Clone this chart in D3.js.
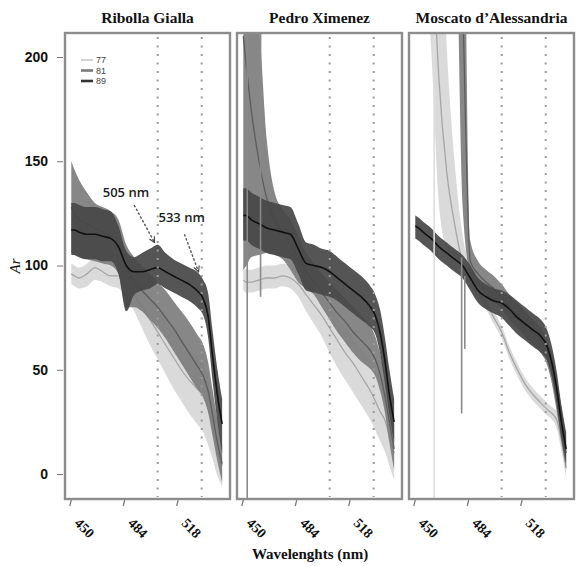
<!DOCTYPE html>
<html>
<head>
<meta charset="utf-8">
<script src="https://cdn.jsdelivr.net/npm/d3@7"></script>
<style>
  body { margin: 0; background: #fff; }
</style>
</head>
<body>
<div id="chart"></div>
<script>
// wavelengths (nm) shared by every panel
const wavelengths = [450, 452, 455, 460, 465, 470, 475, 480, 485, 490, 495, 500, 505, 510, 515, 520, 525, 530, 534, 537, 540, 543, 546];

const cultivars = ["Ribolla  Gialla", "Pedro  Ximenez", "Moscato d\u2019Alessandria"];
const seriesNames = ["77", "81", "89"];
const yTicks = [0, 50, 100, 150, 200];
const xTicks = [450, 484, 518];
const markers = [505, 533];

// Ribolla Gialla
const ribolla77   = [96, 95, 94, 96, 99, 97, 95, 95, 92, 86, 80, 74, 68, 62, 56, 50, 45, 41, 37, 31, 22, 12, 4];
const ribolla77Lo = [91, 90, 89, 90, 93, 92, 90, 89, 85, 78, 70, 62, 55, 48, 41, 35, 29, 24, 20, 14, 7, -1, -6];
const ribolla77Hi = [101, 100, 99, 101, 104, 102, 100, 101, 99, 94, 90, 86, 81, 76, 71, 65, 60, 56, 52, 46, 36, 24, 13];
const ribolla81   = [128, 125, 122, 120, 118, 116, 114, 109, 99, 92, 88, 84, 80, 75, 70, 64, 58, 52, 47, 40, 28, 15, 5];
const ribolla81Lo = [106, 105, 104, 103, 102, 101, 100, 96, 80, 80, 78, 74, 70, 65, 59, 53, 47, 41, 37, 30, 18, 6, -4];
const ribolla81Hi = [150, 146, 141, 135, 130, 128, 126, 122, 110, 104, 100, 96, 92, 88, 83, 78, 73, 67, 62, 54, 40, 26, 14];
const ribolla89   = [117, 117, 116, 115, 115, 114, 113, 109, 100, 97, 97, 98, 99, 97, 95, 93, 91, 88, 84, 76, 56, 38, 24];
const ribolla89Lo = [105, 105, 104, 103, 103, 102, 102, 96, 78, 86, 88, 89, 91, 89, 87, 85, 83, 80, 76, 66, 44, 25, 10];
const ribolla89Hi = [130, 130, 129, 128, 128, 127, 126, 119, 107, 104, 106, 108, 110, 106, 103, 101, 99, 97, 93, 87, 68, 50, 36];

// Pedro Ximenez
const pedro77   = [93, 92, 92, 93, 94, 94, 95, 94, 91, 86, 81, 76, 70, 64, 58, 53, 47, 41, 35, 30, 26, 18, 10];
const pedro77Lo = [88, 87, 87, 88, 89, 89, 90, 89, 85, 78, 72, 66, 58, 51, 45, 39, 33, 27, 21, 16, 11, 4, -3];
const pedro77Hi = [99, 98, 98, 99, 100, 100, 101, 100, 98, 94, 90, 85, 80, 75, 70, 65, 60, 55, 50, 45, 40, 32, 22];
const pedro81   = [210, 195, 175, 150, 132, 122, 116, 110, 104, 97, 92, 87, 82, 77, 73, 68, 64, 60, 55, 48, 38, 25, 12];
const pedro81Lo = [98, 100, 104, 105, 106, 105, 103, 98, 92, 89, 86, 80, 74, 68, 63, 58, 54, 51, 47, 40, 30, 15, 2];
const pedro81Hi = [240, 240, 235, 215, 160, 135, 127, 122, 114, 106, 101, 96, 92, 88, 84, 80, 76, 72, 66, 58, 48, 36, 24];
const pedro89   = [124, 124, 122, 120, 118, 117, 116, 115, 108, 101, 100, 99, 97, 94, 91, 88, 85, 81, 76, 68, 55, 38, 25];
const pedro89Lo = [112, 112, 110, 108, 106, 105, 104, 103, 96, 88, 87, 86, 85, 83, 80, 77, 74, 71, 67, 58, 44, 28, 15];
const pedro89Hi = [137, 137, 135, 133, 131, 130, 129, 128, 120, 111, 110, 108, 107, 104, 101, 98, 95, 91, 86, 79, 66, 50, 36];

// Moscato d'Alessandria
const moscato77   = [400, 380, 340, 270, 190, 145, 120, 102, 94, 88, 82, 75, 68, 58, 50, 43, 38, 34, 31, 29, 26, 16, 3];
const moscato77Lo = [300, 280, 250, 205, 130, 108, 104, 96, 90, 85, 79, 72, 65, 55, 47, 40, 35, 31, 28, 26, 22, 11, -2];
const moscato77Hi = [600, 560, 500, 420, 300, 205, 150, 115, 100, 91, 85, 78, 71, 61, 53, 46, 41, 37, 34, 32, 30, 21, 8];
const moscato81   = [450, 450, 440, 420, 400, 380, 350, 230, 102, 96, 92, 89, 85, 80, 76, 72, 68, 64, 58, 50, 38, 24, 10];
const moscato81Lo = [400, 400, 390, 370, 350, 330, 300, 130, 96, 90, 86, 83, 79, 74, 70, 66, 62, 58, 52, 43, 30, 16, 2];
const moscato81Hi = [500, 500, 490, 470, 450, 430, 420, 340, 112, 102, 98, 95, 91, 86, 82, 78, 74, 70, 64, 57, 46, 32, 18];
const moscato89   = [119, 118, 116, 113, 109, 106, 103, 100, 94, 88, 85, 83, 82, 79, 75, 72, 69, 66, 61, 53, 41, 25, 12];
const moscato89Lo = [113, 112, 110, 107, 103, 100, 97, 94, 88, 82, 79, 77, 75, 71, 67, 64, 61, 58, 54, 46, 33, 17, 5];
const moscato89Hi = [124, 123, 121, 118, 114, 111, 108, 105, 100, 94, 91, 89, 88, 86, 83, 80, 77, 74, 69, 61, 49, 33, 20];

// thin vertical streaks: [panel, series, wavelength, from, to]
const spikes = [
    [1, "81", 452.5, -15, 215],
    [1, "81", 461, 85, 215],
    [2, "77", 462, -15, 215],
    [2, "81", 479.5, 29, 104],
    [2, "81", 481.5, 60, 95]
];

const seriesData = [
    [[ribolla77, ribolla77Lo, ribolla77Hi], [ribolla81, ribolla81Lo, ribolla81Hi], [ribolla89, ribolla89Lo, ribolla89Hi]],
    [[pedro77, pedro77Lo, pedro77Hi], [pedro81, pedro81Lo, pedro81Hi], [pedro89, pedro89Lo, pedro89Hi]],
    [[moscato77, moscato77Lo, moscato77Hi], [moscato81, moscato81Lo, moscato81Hi], [moscato89, moscato89Lo, moscato89Hi]]
];

/**
 * Layout
 */
const width = 576, height = 566;
const panelLeft = [65, 237, 409];
const panelWidth = 165;
const panelTop = 33, panelBottom = 499;

const bandFill = { "77": "#d6d6d6", "81": "#7a7a7a", "89": "#474747" };
const bandOpacity = { "77": 0.9, "81": 0.9, "89": 0.92 };
const lineColor = { "77": "#a6a6a6", "81": "#5c5c5c", "89": "#111111" };
const legendColor = { "77": "#c4c4c4", "81": "#7a7a7a", "89": "#333333" };

const x = d3.scaleLinear().domain([446, 551]).range([0, panelWidth]);
const y = d3.scaleLinear().domain([0, 200]).range([474, 57]);

const svg = d3.select("#chart")
    .append("svg")
    .attr("width", width)
    .attr("height", height);

const area = d3.area()
    .x(d => x(d.wl))
    .y0(d => y(d.lo))
    .y1(d => y(d.hi))
    .curve(d3.curveMonotoneX);

const line = d3.line()
    .x(d => x(d.wl))
    .y(d => y(d.mean))
    .curve(d3.curveMonotoneX);

cultivars.forEach((name, p) => {
    const g = svg.append("g")
        .attr("transform", `translate(${panelLeft[p]},0)`);

    g.append("clipPath")
        .attr("id", `clip${p}`)
        .append("rect")
        .attr("x", 0)
        .attr("y", panelTop)
        .attr("width", panelWidth)
        .attr("height", panelBottom - panelTop);

    const plot = g.append("g").attr("clip-path", `url(#clip${p})`);

    // bands and mean lines
    seriesNames.forEach((s, k) => {
        const [mean, lo, hi] = seriesData[p][k];
        const rows = wavelengths.map((wl, i) => ({ wl, mean: mean[i], lo: lo[i], hi: hi[i] }));
        plot.append("path")
            .attr("d", area(rows))
            .attr("fill", bandFill[s])
            .attr("fill-opacity", bandOpacity[s]);
        plot.append("path")
            .attr("d", line(rows))
            .attr("fill", "none")
            .attr("stroke", lineColor[s])
            .attr("stroke-width", s === "89" ? 1.6 : 1.3);
    });

    // vertical streaks
    plot.selectAll(".spike")
        .data(spikes.filter(d => d[0] === p))
        .enter()
        .append("line")
        .attr("x1", d => x(d[2]))
        .attr("x2", d => x(d[2]))
        .attr("y1", d => y(d[3]))
        .attr("y2", d => y(d[4]))
        .attr("stroke", d => d[1] === "77" ? "#dedede" : "#8a8a8a")
        .attr("stroke-width", 1.6);

    // dotted markers
    g.selectAll(".marker")
        .data(markers)
        .enter()
        .append("line")
        .attr("x1", d => x(d))
        .attr("x2", d => x(d))
        .attr("y1", panelTop + 4)
        .attr("y2", panelBottom - 2)
        .attr("stroke", "#9a9a9a")
        .attr("stroke-width", 2)
        .attr("stroke-dasharray", "2,6.5");

    // panel frame
    g.append("rect")
        .attr("x", 0)
        .attr("y", panelTop)
        .attr("width", panelWidth)
        .attr("height", panelBottom - panelTop)
        .attr("fill", "none")
        .attr("stroke", "#8c8c8c")
        .attr("stroke-width", 2.4);

    // title
    g.append("text")
        .attr("x", panelWidth / 2)
        .attr("y", 23)
        .attr("text-anchor", "middle")
        .attr("font-family", "Liberation Serif, serif")
        .attr("font-weight", "bold")
        .attr("font-size", 15.5)
        .attr("fill", "#111")
        .text(name);

    // x ticks
    g.selectAll(".xtick")
        .data(xTicks)
        .enter()
        .append("line")
        .attr("x1", d => x(d))
        .attr("x2", d => x(d) - 1.5)
        .attr("y1", panelBottom + 1)
        .attr("y2", panelBottom + 7)
        .attr("stroke", "#777")
        .attr("stroke-width", 1.2);

    g.selectAll(".xlabel")
        .data(xTicks)
        .enter()
        .append("text")
        .attr("transform", d => `translate(${x(d) + 2.5},524) rotate(45)`)
        .attr("font-family", "Liberation Serif, serif")
        .attr("font-weight", "bold")
        .attr("font-size", 14)
        .attr("fill", "#111")
        .text(d => d);
});

// y axis on the first panel
const yAxis = svg.append("g")
    .attr("transform", `translate(${panelLeft[0] - 2},0)`)
    .call(d3.axisLeft(y).tickValues(yTicks).tickSize(6).tickPadding(9));
yAxis.select(".domain").remove();
yAxis.selectAll(".tick line").attr("stroke", "#777");
yAxis.selectAll(".tick text")
    .attr("font-family", "Liberation Sans, Arial, sans-serif")
    .attr("font-weight", "bold")
    .attr("font-size", 14)
    .attr("fill", "#111");

svg.append("text")
    .attr("transform", "translate(20,266) rotate(-90)")
    .attr("text-anchor", "middle")
    .attr("font-family", "Liberation Serif, serif")
    .attr("font-style", "italic")
    .attr("font-size", 15)
    .attr("fill", "#111")
    .text("Ar");

svg.append("text")
    .attr("x", 310)
    .attr("y", 559)
    .attr("text-anchor", "middle")
    .attr("font-family", "Liberation Serif, serif")
    .attr("font-weight", "bold")
    .attr("font-size", 15)
    .attr("fill", "#111")
    .text("Wavelenghts (nm)");

// legend
const legend = svg.append("g")
    .attr("transform", `translate(${panelLeft[0]},0)`);
seriesNames.forEach((s, i) => {
    legend.append("line")
        .attr("x1", 16)
        .attr("x2", 28)
        .attr("y1", 60 + i * 10.5)
        .attr("y2", 60 + i * 10.5)
        .attr("stroke", legendColor[s])
        .attr("stroke-width", s === "77" ? 1.5 : 2.6);
    legend.append("text")
        .attr("x", 31)
        .attr("y", 60 + i * 10.5)
        .attr("dominant-baseline", "central")
        .attr("font-family", "Liberation Sans, Arial, sans-serif")
        .attr("font-size", 9)
        .attr("fill", "#444")
        .text(s);
});

// annotations on the first panel
svg.append("defs").append("marker")
    .attr("id", "arrow")
    .attr("viewBox", "0 0 10 10")
    .attr("refX", 9)
    .attr("refY", 5)
    .attr("markerWidth", 5)
    .attr("markerHeight", 5)
    .attr("orient", "auto")
    .append("path")
    .attr("d", "M1,1 L9,5 L1,9")
    .attr("fill", "none")
    .attr("stroke", "#444")
    .attr("stroke-width", 1.6);

const notes = [
    { label: "505 nm", tx: 470, ty: 133, x1: 490, y1: 129, x2: 503, y2: 111 },
    { label: "533 nm", tx: 505.5, ty: 121, x1: 522, y1: 115, x2: 531, y2: 97 }
];
const ann = svg.append("g").attr("transform", `translate(${panelLeft[0]},0)`);
notes.forEach(n => {
    ann.append("text")
        .attr("x", x(n.tx))
        .attr("y", y(n.ty))
        .attr("font-family", "Open Sans, sans-serif")
        .attr("font-weight", 600)
        .attr("font-size", 13)
        .attr("fill", "#1c1c1c")
        .text(n.label);
    ann.append("line")
        .attr("x1", x(n.x1))
        .attr("y1", y(n.y1))
        .attr("x2", x(n.x2))
        .attr("y2", y(n.y2))
        .attr("stroke", "#555")
        .attr("stroke-width", 1.4)
        .attr("stroke-dasharray", "2.5,1.8")
        .attr("marker-end", "url(#arrow)");
});
</script>
</body>
</html>
